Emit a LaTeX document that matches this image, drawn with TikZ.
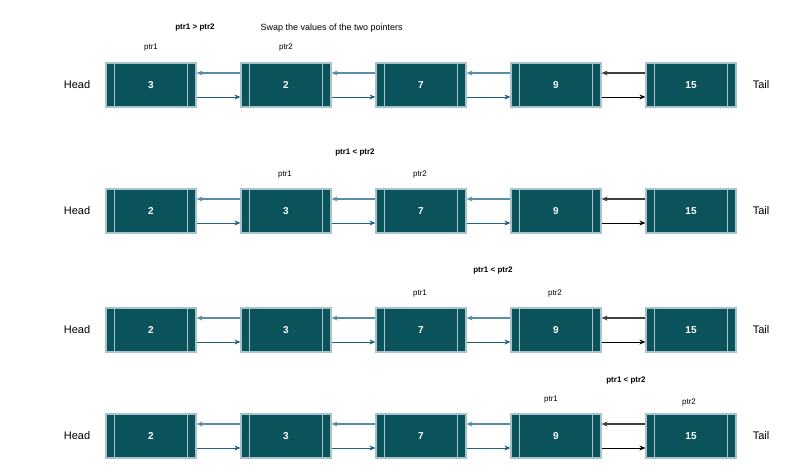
\documentclass[tikz,border=0pt]{standalone}
\usepackage{fontspec}
\setmainfont{Liberation Sans}
\usetikzlibrary{arrows.meta}
\definecolor{nf}{HTML}{0B535A}
\definecolor{nb}{HTML}{A9C3CC}
\definecolor{ab}{HTML}{1F5F80}
\definecolor{al}{HTML}{5B8EA6}
\begin{document}
\begin{tikzpicture}[x=1pt,y=-1pt,
  box/.style={draw=nb,line width=1.2pt,fill=nf,minimum width=90pt,minimum height=44pt,inner sep=0pt,text=white,font=\bfseries\fontsize{10}{12}\selectfont},
  lbl/.style={font=\fontsize{8}{10}\selectfont},
  ttl/.style={font=\bfseries\fontsize{8}{10}\selectfont},
  he/.style={font=\fontsize{11}{13}\selectfont},
  fw/.style={-{Stealth[length=6pt,width=5pt]},line width=0.8pt},
  bw/.style={-{Stealth[length=6pt,width=5pt]},line width=1.1pt}]
\useasboundingbox (0,0) rectangle (800,469);
\foreach \r/\yy/\va/\vb in {1/85/3/2,2/211/2/3,3/330/2/3,4/436/2/3}{
  \foreach \i/\xx/\v in {1/151/\va,2/286/\vb,3/421/7,4/556/9,5/691/15}{
    \node[box] (n\r\i) at (\xx,\yy) {\v};
    \draw[nb,line width=1pt] ([xshift=9pt]n\r\i.north west) -- ([xshift=9pt]n\r\i.south west);
    \draw[nb,line width=1pt] ([xshift=-9pt]n\r\i.north east) -- ([xshift=-9pt]n\r\i.south east);
  }
  \node[he] (h\r) at (77,\yy) {Head};
  \node[he] (t\r) at (761,\yy) {Tail};
  \foreach \a/\b in {1/2,2/3,3/4}{
    \draw[fw,ab] ([yshift=-12pt]n\r\a.east) -- ([yshift=-12pt]n\r\b.west);
    \draw[bw,al] ([yshift=12pt]n\r\b.west) -- ([yshift=12pt]n\r\a.east);
  }
  \draw[fw,black] ([yshift=-12pt]n\r4.east) -- ([yshift=-12pt]n\r5.west);
  \draw[bw,black!75] ([yshift=12pt]n\r5.west) -- ([yshift=12pt]n\r4.east);
}
\node[ttl] (T1) at (195,28) {ptr1 > ptr2};
\node[lbl,anchor=west,font=\fontsize{9}{11}\selectfont] (S1) at (257,28) {Swap the values of the two pointers};
\node[lbl] (p11) at (151,48) {ptr1};
\node[lbl] (p12) at (286,48) {ptr2};
\node[ttl] (T2) at (355,153) {ptr1 < ptr2};
\node[lbl] (p21) at (285,175) {ptr1};
\node[lbl] (p22) at (420,175) {ptr2};
\node[ttl] (T3) at (493,271) {ptr1 < ptr2};
\node[lbl] (p31) at (420,294) {ptr1};
\node[lbl] (p32) at (555,294) {ptr2};
\node[ttl] (T4) at (626,381) {ptr1 < ptr2};
\node[lbl] (p41) at (551,400) {ptr1};
\node[lbl] (p42) at (689,403) {ptr2};
\end{tikzpicture}
\end{document}
